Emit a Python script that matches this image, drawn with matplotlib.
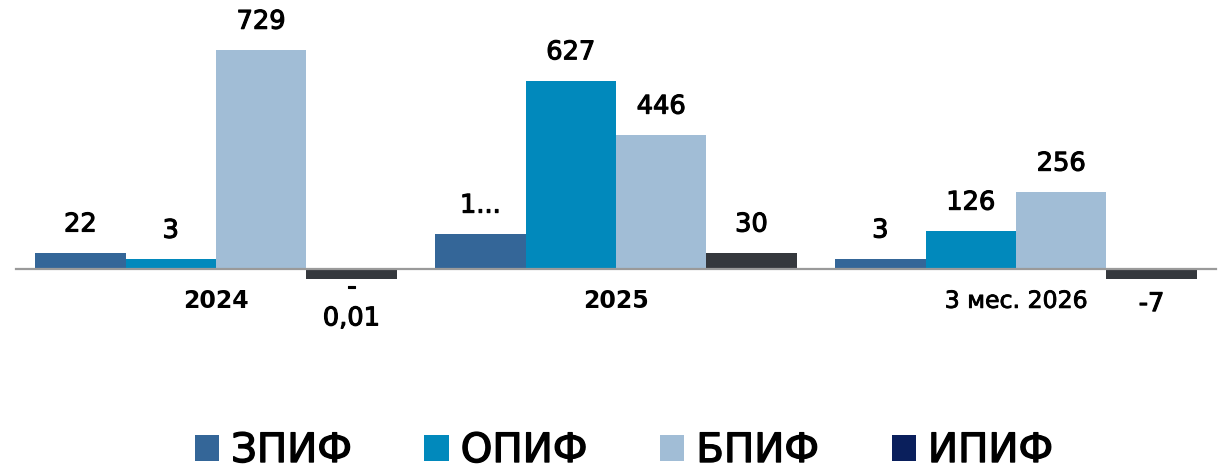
import matplotlib
matplotlib.use("Agg")
import matplotlib.pyplot as plt
import matplotlib.patheffects as pe
from matplotlib.patches import Patch
import numpy as np

plt.rcParams['font.family'] = ['DejaVu Sans']

# categories and series
periods = ['2024', '2025', '3 мес. 2026']
series = ['ЗПИФ', 'ОПИФ', 'БПИФ', 'ИПИФ']

# bar heights as drawn in the picture (small bars are drawn taller than their labels)
zpif = [53, 116, 33]
opif = [32, 627, 126]
bpif = [729, 446, 256]
ipif = [-33, 53, -33]

# data labels as printed
zpif_lbl = ['22', '1...', '3']
opif_lbl = ['3', '627', '126']
bpif_lbl = ['729', '446', '256']
ipif_lbl = ['-\n0,01', '30', '-7']

bar_colors = ['#346698', '#0189bc', '#a1bdd6', '#35383d']
legend_colors = ['#346698', '#0189bc', '#a1bdd6', '#0a1f5c']

values = [zpif, opif, bpif, ipif]
labels = [zpif_lbl, opif_lbl, bpif_lbl, ipif_lbl]

# slightly heavier text, like the medium weight in the original
thick = [pe.withStroke(linewidth=0.8, foreground='black')]

fig = plt.figure(figsize=(12.22, 4.73), dpi=100)
H = 473.0
ax = fig.add_axes([16 / 1222, 1 - 340 / H, 1200 / 1222, 330 / H])

x = np.arange(len(periods))
w = 0.226
for j in range(len(series)):
    xs = x + (j - 1.5) * w
    bars = ax.bar(xs, values[j], width=w, color=bar_colors[j], zorder=2)
    for b, v, t in zip(bars, values[j], labels[j]):
        cx = b.get_x() + b.get_width() / 2
        if v >= 0:
            off = (0, 11)
            va = 'bottom'
        elif '\n' in t:
            off = (0, 3)
            va = 'top'
        else:
            off = (0, -9)
            va = 'top'
        ax.annotate(t, (cx, v), xytext=off, textcoords='offset points',
                    ha='center', va=va, fontsize=18.5, color='black',
                    linespacing=1.25, path_effects=thick)

ax.set_xlim(-0.5, 2.5)
ax.set_ylim(-(340 - 268.7) / 0.3, (268.7 - 10) / 0.3)

for s in ['top', 'right', 'left']:
    ax.spines[s].set_visible(False)
ax.spines['bottom'].set_position(('data', 0))
ax.spines['bottom'].set_color('#9a9a9a')
ax.spines['bottom'].set_linewidth(1.6)
ax.spines['bottom'].set_zorder(3)
ax.set_yticks([])
ax.set_xticks(x)
ax.set_xticklabels(periods, fontsize=17)
ax.tick_params(axis='x', length=0, pad=14.5)
for i, tl in enumerate(ax.get_xticklabels()):
    if i < 2:
        tl.set_fontweight('bold')
    else:
        tl.set_path_effects([pe.withStroke(linewidth=0.6, foreground='black')])

handles = [Patch(facecolor=c, edgecolor='none') for c in legend_colors]
leg = fig.legend(handles, series, loc='center', bbox_to_anchor=(624 / 1222, 1 - 451 / H),
                 ncol=4, frameon=False, fontsize=29, handlelength=0.6, handleheight=0.6,
                 handletextpad=0.3, columnspacing=1.8)
for t in leg.get_texts():
    t.set_path_effects([pe.withStroke(linewidth=1.0, foreground='black')])

fig.savefig('out.png', dpi=100)
